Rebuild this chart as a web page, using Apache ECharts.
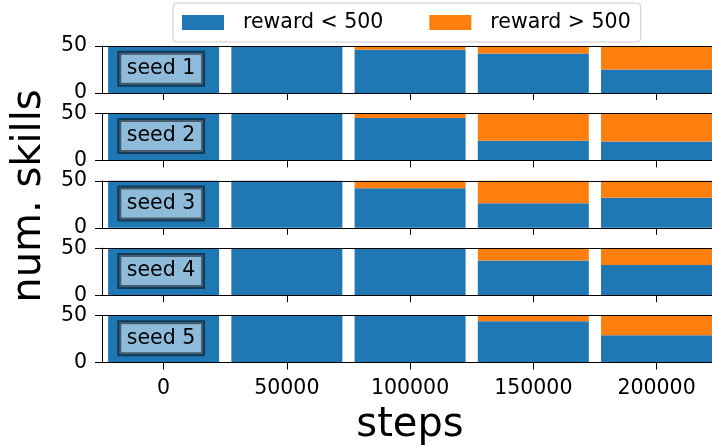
<!DOCTYPE html>
<html>
<head>
<meta charset="UTF-8">
<title>num. skills</title>
<script src="https://cdn.jsdelivr.net/npm/echarts@6/dist/echarts.min.js"></script>
<style>
  body{margin:0;background:#fff;}
  #main{width:712px;height:446px;}
</style>
</head>
<body>
<div id="main"></div>
<script>
// 横轴位置 (steps)
var steps = [0, 50000, 100000, 150000, 200000];
var tickValues = [0, 50000, 100000, 150000, 200000];
var seedNames = ['seed 1', 'seed 2', 'seed 3', 'seed 4', 'seed 5'];

// reward < 500
var lowSeed1 = [50, 50, 46, 42, 25];
var lowSeed2 = [50, 50, 45, 21, 20];
var lowSeed3 = [50, 50, 42, 26, 32];
var lowSeed4 = [50, 50, 50, 37, 32];
var lowSeed5 = [50, 50, 50, 44, 29];
// reward > 500
var highSeed1 = [0, 0, 4, 8, 25];
var highSeed2 = [0, 0, 5, 29, 30];
var highSeed3 = [0, 0, 8, 24, 18];
var highSeed4 = [0, 0, 0, 13, 18];
var highSeed5 = [0, 0, 0, 6, 21];

var lows = [lowSeed1, lowSeed2, lowSeed3, lowSeed4, lowSeed5];
var highs = [highSeed1, highSeed2, highSeed3, highSeed4, highSeed5];

var FONT = 'DejaVu Sans';
var grids = [], xAxes = [], yAxes = [], series = [], graphics = [];

for (var i = 0; i < 5; i++) {
    var gTop = 46 + i * 67.4;
    var isLast = (i === 4);
    grids.push({left: 102, right: 0, top: gTop, height: 47});
    // 下方轴 (只有最后一个显示数字)
    xAxes.push({
        type: 'value', gridIndex: i, position: 'bottom',
        min: -25000, max: 222500, z: 5,
        axisLine: {show: true, onZero: false, lineStyle: {color: '#000', width: 1}},
        axisTick: {show: true, customValues: tickValues, length: 7, lineStyle: {color: '#000'}},
        axisLabel: {show: true, customValues: tickValues, fontSize: 20.5, color: '#000',
                    fontFamily: FONT, margin: 16,
                    formatter: isLast ? function (v) { return String(v); } : function () { return ''; }},
        splitLine: {show: false}
    });
    // 上方边框
    xAxes.push({
        type: 'value', gridIndex: i, position: 'top',
        min: -25000, max: 222500, z: 5,
        axisLine: {show: true, onZero: false, lineStyle: {color: '#000', width: 1}},
        axisTick: {show: false}, axisLabel: {show: false}, splitLine: {show: false}
    });
    yAxes.push({
        type: 'value', gridIndex: i, position: 'left', min: 0, max: 50, interval: 50, z: 5,
        axisLine: {show: true, onZero: false, lineStyle: {color: '#000', width: 1}},
        axisTick: {show: true, length: 7, lineStyle: {color: '#000'}},
        axisLabel: {fontSize: 20.5, color: '#000', fontFamily: FONT, margin: 15},
        splitLine: {show: false}
    });
    // 数据按 [数量, steps] 存放，使堆叠作用在数量维度上
    series.push({
        name: 'reward < 500', type: 'bar', xAxisIndex: 2 * i, yAxisIndex: i,
        stack: 'seed' + i, barWidth: 111,
        encode: {x: 1, y: 0},
        itemStyle: {color: '#1f77b4'},
        data: steps.map(function (x, j) { return [lows[i][j], x]; })
    });
    series.push({
        name: 'reward > 500', type: 'bar', xAxisIndex: 2 * i, yAxisIndex: i,
        stack: 'seed' + i, barWidth: 111,
        encode: {x: 1, y: 0},
        itemStyle: {color: '#ff7f0e'},
        data: steps.map(function (x, j) { return [highs[i][j], x]; })
    });
    // seed 标签框
    graphics.push({
        type: 'rect', z: 100,
        shape: {x: 119.3, y: gTop + 6.7, width: 83.7, height: 32},
        style: {fill: 'rgba(255,255,255,0.5)', stroke: 'rgba(0,0,0,0.5)', lineWidth: 4}
    });
    graphics.push({
        type: 'text', z: 101, x: 161, y: gTop + 22.7,
        style: {text: seedNames[i], font: '20.5px "DejaVu Sans"', fill: '#000',
                textAlign: 'center', textVerticalAlign: 'middle'}
    });
}

graphics.push({
    type: 'text', z: 101, x: 410, y: 426,
    style: {text: 'steps', font: '40px "DejaVu Sans"', fill: '#000',
            textAlign: 'center', textVerticalAlign: 'middle'}
});
graphics.push({
    type: 'text', z: 101, x: 30, y: 196, rotation: Math.PI / 2,
    style: {text: 'num. skills', font: '40px "DejaVu Sans"', fill: '#000',
            textAlign: 'center', textVerticalAlign: 'middle'}
});

var myChart = echarts.init(document.getElementById('main'));
var option = {
    animation: false,
    textStyle: {fontFamily: FONT},
    legend: {
        data: ['reward < 500', 'reward > 500'],
        left: 173, top: 3,
        padding: [9, 10, 9, 9],
        itemGap: 46, itemWidth: 42, itemHeight: 15, icon: 'rect',
        borderColor: '#cccccc', borderWidth: 1, borderRadius: 4,
        backgroundColor: 'rgba(255,255,255,0.8)',
        textStyle: {fontSize: 20.5, fontFamily: FONT, color: '#000', padding: [0, 0, 0, 14]}
    },
    grid: grids,
    xAxis: xAxes,
    yAxis: yAxes,
    series: series,
    graphic: graphics
};
myChart.setOption(option);
</script>
</body>
</html>
